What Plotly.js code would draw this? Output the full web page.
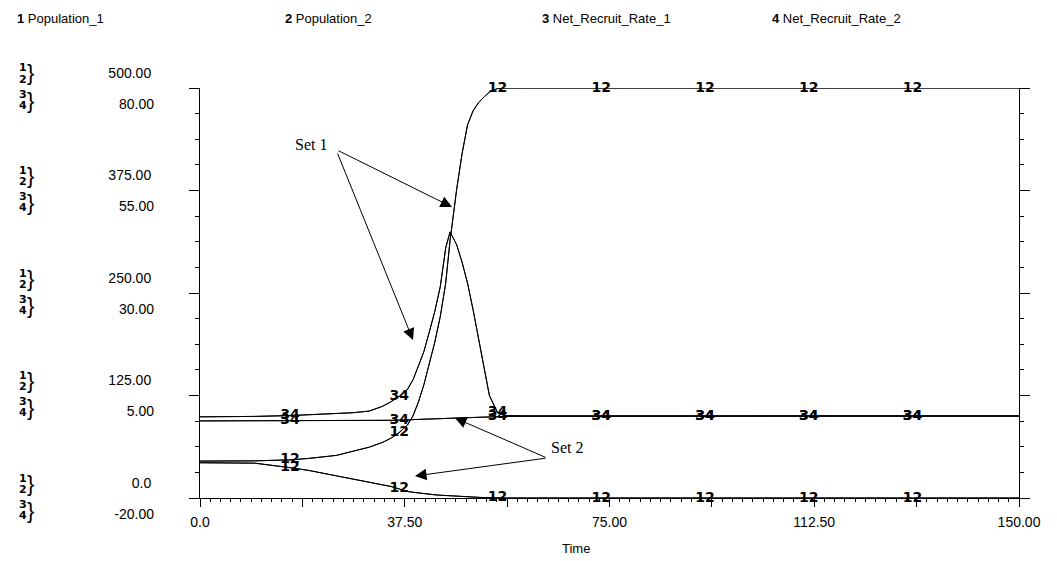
<!DOCTYPE html>
<html>
<head>
<meta charset="utf-8">
<script src="https://cdn.plot.ly/plotly-3.0.1.min.js"></script>
<style>html,body{margin:0;padding:0;background:#fff;}#chart{width:1057px;height:561px;}</style>
</head>
<body>
<div id="chart"></div>
<script>
// ---- data ----
const times = [0,5,10,16.5,20,25,28,31,33.5,35,36.5,38,39,40,41,42,43,44,45,45.8,47,48,49,50,51,52,53,54.5,56,60,73.5,92.5,111.5,130.5,150];
const set1Population = [45,45,45.3,46.5,48.3,52,57,62,68,73,80,89,100,117,138,163,190,221,262,314,376,420,455,472,482,489,495,499.5,500,500,500,500,500,500,500];
const set2Population = [43,43,42.5,37,33.5,27,23,19.5,16.5,14,11,8,7,6,5.2,4.5,3.9,3.4,2.9,2.5,2,1.6,1.3,1,0.8,0.5,0.3,0.1,0,0,0,0,0,0,0];
const set1RecruitRate = [-0.2,-0.2,-0.1,0.1,0.3,0.6,0.8,1.2,2.4,3.5,4.8,6.5,8.8,12.2,15.7,20.5,25.5,31.5,41,44.9,41.8,37.5,32.4,26,19,12,5,0.8,0.1,0,0,0,0,0,0];
const set2RecruitRate = [-1.2,-1.2,-1.2,-1.2,-1.2,-1.2,-1.2,-1.15,-1.1,-1.05,-1.0,-0.95,-0.9,-0.9,-0.85,-0.8,-0.75,-0.7,-0.65,-0.6,-0.5,-0.45,-0.4,-0.35,-0.3,-0.25,-0.2,-0.15,-0.1,-0.05,0,0,0,0,0];
const labelTimes = [16.5,36.5,54.5,73.5,92.5,111.5,130.5];
const legendNames = ['Population_1','Population_2','Net_Recruit_Rate_1','Net_Recruit_Rate_2'];
const popTicks = [0,125,250,375,500];
const popTickText = ['0.0','125.00','250.00','375.00','500.00'];
const rateTicks = [-20,5,30,55,80];
const rateTickText = ['-20.00','5.00','30.00','55.00','80.00'];
const timeTicks = [0,18.75,37.5,56.25,75,93.75,112.5,131.25,150];
const timeTickText = ['0.0','','37.50','','75.00','','112.50','','150.00'];

// ---- plot geometry (pixels) ----
const PL = 200, PR = 1019, PT = 88, PB = 498;
const px = (x) => (x - PL) / (PR - PL);
const py = (y) => (PB - y) / (PB - PT);

const lineStyle = {color:'#000', width:1};
const traces = [];
function addLine(name, ys, axis){
  traces.push({x:times, y:ys, type:'scatter', mode:'lines', name:name, line:lineStyle, yaxis:axis, hoverinfo:'skip'});
}
// Set 1: Population_1 and Population_2 coincide; rates coincide
addLine('Population_1 (Set 1)', set1Population, 'y');
addLine('Population_2 (Set 1)', set1Population, 'y');
addLine('Net_Recruit_Rate_1 (Set 1)', set1RecruitRate, 'y2');
addLine('Net_Recruit_Rate_2 (Set 1)', set1RecruitRate, 'y2');
addLine('Population_1 (Set 2)', set2Population, 'y');
addLine('Population_2 (Set 2)', set2Population, 'y');
addLine('Net_Recruit_Rate_1 (Set 2)', set2RecruitRate, 'y2');
addLine('Net_Recruit_Rate_2 (Set 2)', set2RecruitRate, 'y2');

function addLabels(ys, txt, axis){
  const lx = [], ly = [], lt = [];
  labelTimes.forEach(t => { const i = times.indexOf(t); if(i >= 0){ lx.push(t); ly.push(ys[i]); lt.push(txt); } });
  traces.push({x:lx, y:ly, text:lt, type:'scatter', mode:'text', yaxis:axis, cliponaxis:false, hoverinfo:'skip',
    textposition:'middle center', textfont:{family:'DejaVu Sans', size:14, color:'#000', weight:'bold'}});
}
addLabels(set1Population, '12', 'y');
addLabels(set2Population, '12', 'y');
addLabels(set1RecruitRate, '34', 'y2');
addLabels(set2RecruitRate, '34', 'y2');

const annotations = [];
// top legend
const legendX = [15, 283, 540, 770];
legendNames.forEach((n, i) => {
  annotations.push({xref:'paper', yref:'paper', x:px(legendX[i]), y:py(18), xanchor:'left', yanchor:'middle', showarrow:false,
    text:'<b>' + (i+1) + '</b> ' + n, font:{family:'Liberation Sans', size:13, color:'#000'}});
});
// bracket group markers beside y tick labels
popTicks.forEach(v => {
  const yp = PB - v * (PB - PT) / 500;
  [['1',-20],['2',-9],['3',6],['4',17]].forEach(d => {
    annotations.push({xref:'paper', yref:'paper', x:px(28), y:py(yp + d[1]), xanchor:'right', yanchor:'middle', showarrow:false,
      text:'<b>' + d[0] + '</b>', font:{family:'DejaVu Sans', size:11, color:'#000'}, borderpad:0});
  });
  [-15, 12].forEach(off => {
    annotations.push({xref:'paper', yref:'paper', x:px(26), y:py(yp + off), xanchor:'left', yanchor:'middle', showarrow:false,
      text:'}', font:{family:'Liberation Sans', size:22, color:'#000'}, borderpad:0});
  });
});
// axis title "Time"
annotations.push({xref:'paper', yref:'paper', x:px(576), y:py(548), xanchor:'center', yanchor:'middle', showarrow:false,
  text:'Time', font:{family:'Liberation Sans', size:13, color:'#000'}});

// "Set" call-outs (pixel positions converted to data coordinates)
const tOf = (x) => (x - PL) * 150 / (PR - PL);
const pOf = (y) => (PB - y) * 500 / (PB - PT);
function arrow(sx, sy, tx, ty){
  annotations.push({x:tOf(tx), y:pOf(ty), ax:tOf(sx), ay:pOf(sy), xref:'x', yref:'y', axref:'x', ayref:'y',
    text:'', showarrow:true, arrowhead:2, arrowsize:2.3, arrowwidth:1, arrowcolor:'#000', standoff:0, startstandoff:0});
}
arrow(337,150, 452,207);
arrow(337,152, 413,340);
arrow(547,458, 455,418);
arrow(547,458, 415,476);
annotations.push({x:tOf(329), y:pOf(144), xref:'x', yref:'y', xanchor:'right', yanchor:'middle', showarrow:false,
  text:'Set 1', font:{family:'Liberation Serif', size:16, color:'#000'}});
annotations.push({x:tOf(549), y:pOf(447), xref:'x', yref:'y', xanchor:'left', yanchor:'middle', showarrow:false,
  text:'Set 2', font:{family:'Liberation Serif', size:16, color:'#000'}});

const tickFont = {family:'Liberation Sans', size:14, color:'#000'};
const layout = {
  width:1057, height:561,
  margin:{l:PL, r:1057-PR, t:PT, b:561-PB, pad:0},
  paper_bgcolor:'#fff', plot_bgcolor:'#fff',
  showlegend:false,
  xaxis:{range:[0,150], tickmode:'array', tickvals:timeTicks, ticktext:timeTickText,
    ticks:'outside', ticklen:8, tickwidth:1, tickcolor:'#000',
    minor:{dtick:1.875, tick0:0, ticks:'outside', ticklen:3, tickwidth:1, tickcolor:'#000', showgrid:false},
    showline:true, linecolor:'#000', linewidth:1, showgrid:false, zeroline:false,
    tickfont:tickFont, ticklabelstandoff:3},
  yaxis:{range:[0,500], tickmode:'array', tickvals:popTicks, ticktext:popTickText,
    ticks:'outside', ticklen:10, tickwidth:1, tickcolor:'#000',
    minor:{dtick:31.25, tick0:0, ticks:'outside', ticklen:4, tickwidth:1, tickcolor:'#000', showgrid:false},
    showline:true, mirror:'ticks', linecolor:'#000', linewidth:1, showgrid:false, zeroline:false,
    tickfont:tickFont, ticklabelshift:-15, ticklabelstandoff:35},
  yaxis2:{range:[-20,80], overlaying:'y', side:'left', tickmode:'array', tickvals:rateTicks, ticktext:rateTickText,
    ticks:'', showline:false, showgrid:false, zeroline:false,
    tickfont:tickFont, ticklabelshift:16, ticklabelstandoff:45},
  annotations:annotations
};
Plotly.newPlot('chart', traces, layout, {staticPlot:true, displayModeBar:false});
</script>
</body>
</html>
